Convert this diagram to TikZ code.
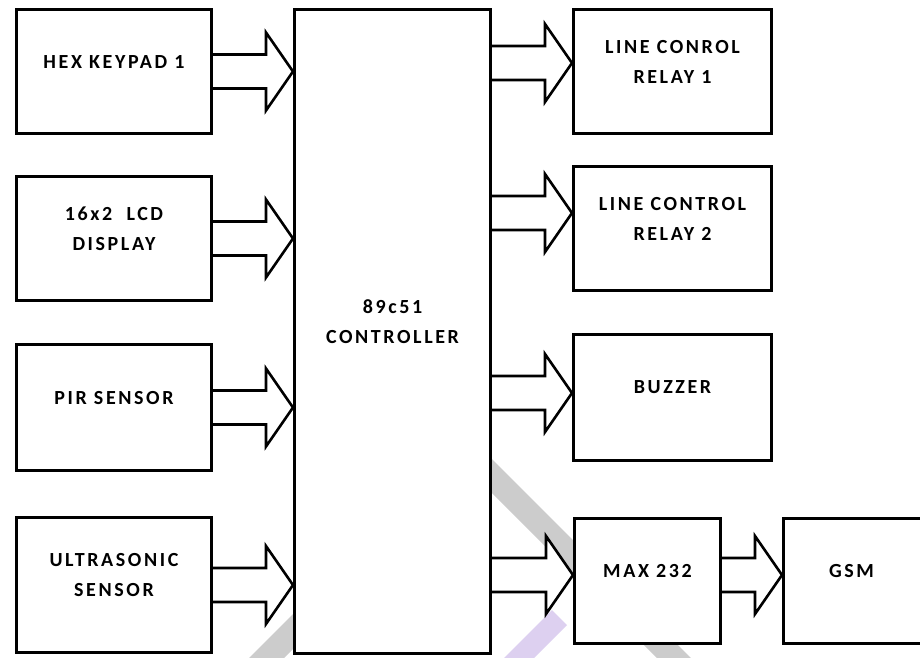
\documentclass[tikz,border=0pt]{standalone}
\usepackage{fontspec}
\setmainfont{Carlito}
\newfontfamily\boxfont[LetterSpace=13]{Carlito}
\usetikzlibrary{positioning,calc}

\definecolor{wmgray}{RGB}{204,204,204}
\definecolor{wmpurple}{RGB}{221,208,240}

% hollow block arrow from tail coordinate #1 to tip coordinate #2
\newcommand{\blockarrow}[2]{%
  \draw[barrow] ($(#1)+(0,-17)$) -- ($(#2)+(-27,-17)$) -- ($(#2)+(-27,-39)$)
    -- (#2) -- ($(#2)+(-27,39)$) -- ($(#2)+(-27,17)$) -- ($(#1)+(0,17)$);}

\begin{document}
\begin{tikzpicture}[
  x=1pt, y=-1pt,
  box/.style={draw, line width=3pt, fill=white, minimum width=195pt,
              minimum height=124pt, inner sep=0pt},
  lbl/.style={font=\boxfont\bfseries\fontsize{20}{30}\selectfont,
              align=center, yshift=10pt},
  barrow/.style={line width=2.6pt, fill=white, line join=miter},
]
\useasboundingbox (0,0) rectangle (920,657);

% ---------- watermark bits behind the blocks ----------
\fill[wmgray] (470,437) -- (720,687) -- (686,687) -- (470,471) -- cycle;
\fill[wmgray] (230,677) -- (300,607) -- (300,642) -- (265,677) -- cycle;
\fill[wmpurple] (552,610) -- (567,625) -- (487,705) -- (472,690) -- cycle;

% ---------- inputs ----------
\node[box, label={[lbl]center:HEX KEYPAD 1}] (hex) at (114,71.5) {};
\node[box, below=40pt of hex, label={[lbl]center:16x2\ \ LCD\\DISPLAY}] (lcd) {};
\node[box, below=41pt of lcd, minimum height=126pt,
      label={[lbl]center:PIR SENSOR}] (pir) {};
\node[box, below=44pt of pir, minimum height=135pt,
      label={[lbl]center:ULTRASONIC\\SENSOR}] (ultra) {};

% ---------- controller ----------
\node[box, minimum width=196pt, minimum height=644pt,
      label={[lbl]center:89c51\\CONTROLLER}] (ctrl) at (392.5,331.5) {};

% ---------- outputs ----------
\node[box, minimum width=198pt, label={[lbl]center:LINE CONROL\\RELAY 1}]
  (relayA) at (672.5,71.5) {};
\node[box, minimum width=198pt, below=30pt of relayA,
      label={[lbl]center:LINE CONTROL\\RELAY 2}] (relayB) {};
\node[box, minimum width=198pt, minimum height=126pt, below=41pt of relayB,
      label={[lbl]center:BUZZER}] (buzzer) {};
\node[box, minimum width=146pt, minimum height=125pt,
      label={[lbl]center:MAX 232}] (max) at (647.5,581) {};
\node[box, minimum width=160pt, minimum height=125pt, right=60pt of max,
      label={[lbl,xshift=-12pt]center:GSM}] (gsm) {};

% ---------- arrows into the controller ----------
\coordinate (hexT) at (hex.east -| ctrl.west);
\coordinate (lcdT) at (lcd.east -| ctrl.west);
\coordinate (pirT) at (pir.east -| ctrl.west);
\coordinate (ultraT) at (ultra.east -| ctrl.west);
\blockarrow{hex.east}{hexT}
\blockarrow{lcd.east}{lcdT}
\blockarrow{pir.east}{pirT}
\blockarrow{ultra.east}{ultraT}

% ---------- arrows out of the controller ----------
\coordinate (relayAT) at ($(relayA.west)+(0,-8.5)$);
\coordinate (relayBT) at ($(relayB.west)+(0,-15.5)$);
\coordinate (buzzerT) at ($(buzzer.west)+(0,-4.5)$);
\coordinate (maxT) at ($(max.west)+(0,-6)$);
\coordinate (relayAS) at (relayAT -| ctrl.east);
\coordinate (relayBS) at (relayBT -| ctrl.east);
\coordinate (buzzerS) at (buzzerT -| ctrl.east);
\coordinate (maxS) at (maxT -| ctrl.east);
\blockarrow{relayAS}{relayAT}
\blockarrow{relayBS}{relayBT}
\blockarrow{buzzerS}{buzzerT}
\blockarrow{maxS}{maxT}

% ---------- MAX 232 to GSM ----------
\coordinate (gsmS) at (maxT -| max.east);
\coordinate (gsmT) at (maxT -| gsm.west);
\blockarrow{gsmS}{gsmT}

\end{tikzpicture}
\end{document}
